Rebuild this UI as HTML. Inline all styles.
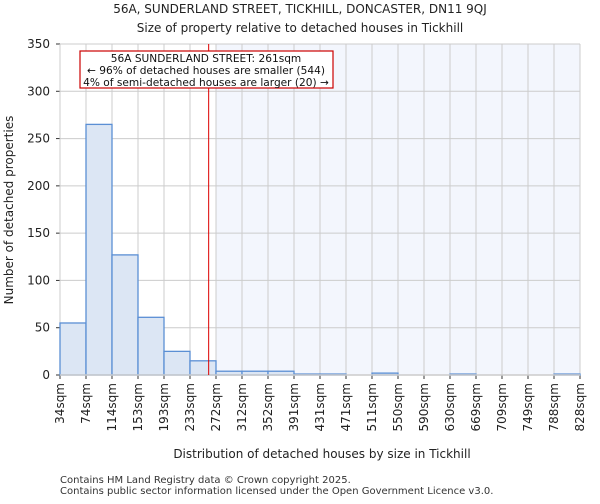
<!DOCTYPE html>
<html><head><meta charset="utf-8"><style>
body{margin:0;background:#fff;font-family:"DejaVu Sans","Liberation Sans",sans-serif;}
</style></head><body>
<svg width="600" height="500" xmlns="http://www.w3.org/2000/svg" font-family="DejaVu Sans, Liberation Sans, sans-serif">
<text x="300" y="13" font-size="12" text-anchor="middle" fill="#222">56A, SUNDERLAND STREET, TICKHILL, DONCASTER, DN11 9QJ</text>
<text x="300" y="32" font-size="12" text-anchor="middle" fill="#222">Size of property relative to detached houses in Tickhill</text>
<g id="plot"></g>
<text x="322" y="458" font-size="12" text-anchor="middle" fill="#222">Distribution of detached houses by size in Tickhill</text>
<text transform="translate(13,210) rotate(-90)" font-size="12" text-anchor="middle" fill="#222">Number of detached properties</text>
<text x="60" y="483" font-size="10" fill="#333">Contains HM Land Registry data © Crown copyright 2025.</text>
<text x="60" y="494" font-size="10" fill="#333">Contains public sector information licensed under the Open Government Licence v3.0.</text>
</svg>
<script>
const categories=["34sqm","74sqm","114sqm","153sqm","193sqm","233sqm","272sqm","312sqm","352sqm","391sqm","431sqm","471sqm","511sqm","550sqm","590sqm","630sqm","669sqm","709sqm","749sqm","788sqm","828sqm"];
const values=[55,265,127,61,25,15,4,4,4,1,1,0,2,0,0,1,0,0,0,1];
const yTicks=[0,50,100,150,200,250,300,350];
const propertySize=261;
const binEdges=[34,74,114,153,193,233,272,312,352,391,431,471,511,550,590,630,669,709,749,788,828];
const L=60,R=580,T=44,B=375,NS="http://www.w3.org/2000/svg";
const bw=(R-L)/values.length;
const y=v=>B-(v/350)*(B-T);
const xi=i=>L+i*bw;
function xs(s){for(let i=0;i<binEdges.length-1;i++){if(s<=binEdges[i+1])return xi(i)+bw*(s-binEdges[i])/(binEdges[i+1]-binEdges[i]);}return R;}
const g=document.getElementById('plot');
function mk(t,a){const e=document.createElementNS(NS,t);for(const k in a)e.setAttribute(k,a[k]);g.appendChild(e);return e;}
let si=binEdges.findIndex(b=>b>=propertySize);
let sh=mk('rect',{x:xi(si),y:T,width:R-xi(si),height:B-T,fill:'#f3f6fd'});


yTicks.forEach(t=>{let l=mk('line',{x1:L,x2:R,y1:y(t),y2:y(t),stroke:'#ccc'});


mk('line',{x1:L-4,x2:L,y1:y(t),y2:y(t),stroke:'#333'});
let tx=mk('text',{x:L-10,y:y(t)+4,'font-size':'12','text-anchor':'end',fill:'#222'});tx.textContent=t;

});
categories.forEach((c,i)=>{let l=mk('line',{x1:xi(i),x2:xi(i),y1:T,y2:B,stroke:'#ccc'});


mk('line',{x1:xi(i),x2:xi(i),y1:B,y2:B+4,stroke:'#333'});
let tx=mk('text',{transform:`translate(${xi(i)+4},${B+8}) rotate(-90)`,'font-size':'12','text-anchor':'end',fill:'#222'});tx.textContent=c;

});
values.forEach((v,i)=>{let r=mk('rect',{x:xi(i),y:y(v),width:bw,height:B-y(v),fill:'#dce6f4',stroke:'#5b8fd4','stroke-width':1.3});

});
mk('line',{x1:L,x2:R,y1:B,y2:B,stroke:'#ccc','stroke-width':1.5});
let px=xs(propertySize);
let rl=mk('line',{x1:px,x2:px,y1:T,y2:B,stroke:'#d00','stroke-width':1});


let bx=mk('rect',{x:80,y:51,width:253,height:37,fill:'#fff',stroke:'#c00','stroke-width':1.2});


["56A SUNDERLAND STREET: 261sqm","← 96% of detached houses are smaller (544)","4% of semi-detached houses are larger (20) →"].forEach((s,k)=>{let t=mk('text',{x:206,y:62+k*12,'font-size':'10.6','text-anchor':'middle',fill:'#111'});t.textContent=s;

});
</script>
</body></html>
